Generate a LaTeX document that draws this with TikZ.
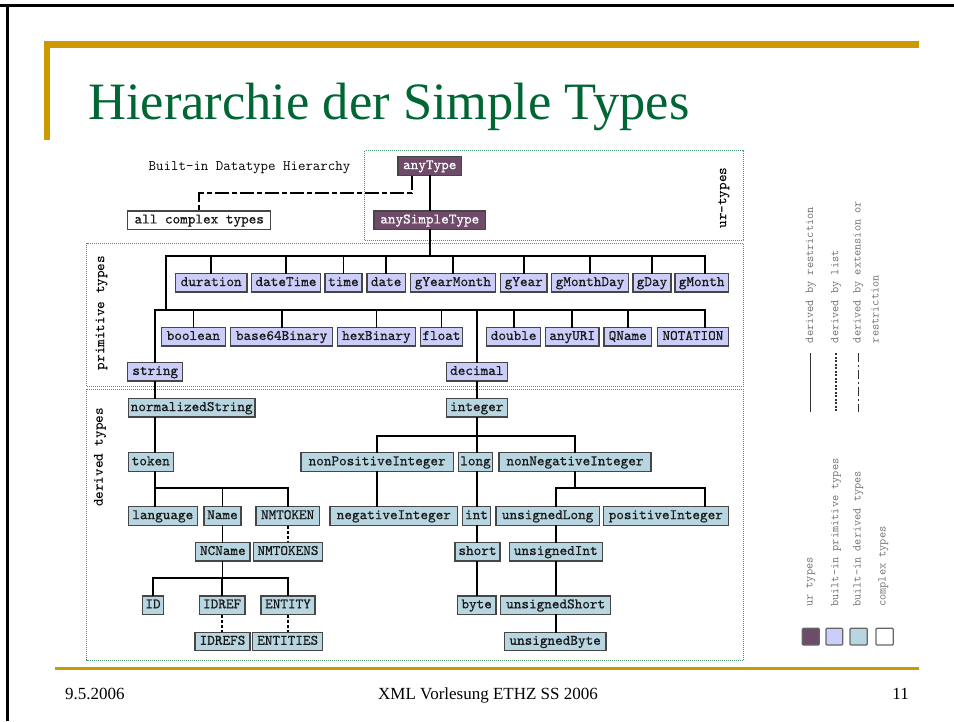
\documentclass[tikz,border=0pt]{standalone}
\usepackage{fontspec}
\newfontfamily\serifx{Liberation Serif}
\newfontfamily\monof{lmmono10-regular}[Extension=.otf, FakeBold=0.6]
\definecolor{urc}{RGB}{110,75,105}
\definecolor{primc}{RGB}{204,206,250}
\definecolor{derc}{RGB}{184,214,226}
\definecolor{bxline}{RGB}{70,70,70}
\definecolor{grpc}{RGB}{70,150,110}
\definecolor{goldc}{RGB}{204,153,0}
\definecolor{titlec}{RGB}{0,102,51}
\definecolor{leggray}{RGB}{115,115,115}
\begin{document}
\begin{tikzpicture}[x=1pt,y=-1pt,
 bx/.style={draw=bxline, line width=1.3pt, inner sep=0pt, minimum height=18.5pt, text height=9pt, text depth=2.5pt, font=\fontsize{14.5}{15}\selectfont\monof, text=black!90},
 pr/.style={bx, fill=primc},
 dr/.style={bx, fill=derc},
 ur/.style={bx, fill=urc, text=white},
 cx/.style={bx, fill=white},
 conn/.style={draw=black, line width=1.8pt, line cap=rect},
 lst/.style={draw=black, line width=1.8pt, dash pattern=on 3pt off 2pt},
 ext/.style={draw=black, line width=1.8pt, dash pattern=on 14pt off 3pt on 5pt off 3pt},
 grp/.style={draw=grpc, line width=1pt, dash pattern=on 1pt off 1pt},
 lbl/.style={font=\fontsize{14.5}{15}\selectfont\ttfamily\bfseries, rotate=90, inner sep=0pt},
 legt/.style={font=\fontsize{12}{12}\selectfont\ttfamily, text=leggray, rotate=90, anchor=west, inner sep=0pt},
 legl/.style={draw=black!80, line width=1.4pt},
 sq/.style={draw=black!60, line width=1.2pt, rounded corners=1pt}]
\useasboundingbox (0,0) rectangle (954,721);
\fill[white] (0,0) rectangle (954,721);
% frame
\draw[black, line width=2.6pt] (0,5.3) -- (954,5.3);
\draw[black, line width=2.6pt] (7.5,4) -- (7.5,721);
% gold decorations
\fill[goldc] (44,41) rectangle (919,47.5);
\fill[goldc] (44,41) rectangle (50,140);
\fill[goldc] (55,666.5) rectangle (919,670);
% title
\node[anchor=base west, inner sep=0pt, text=titlec, font=\fontsize{52.5}{52.5}\selectfont\serifx] (title) at (88,119) {Hierarchie der Simple Types};
% footer
\node[anchor=base west, inner sep=0pt, font=\fontsize{17}{17}\selectfont\serifx] (fdate) at (65,699.5) {9.5.2006};
\node[anchor=base, inner sep=0pt, font=\fontsize{17}{17}\selectfont\serifx] (fmid) at (488,699.5) {XML Vorlesung ETHZ SS 2006};
\node[anchor=base east, inner sep=0pt, font=\fontsize{17}{17}\selectfont\serifx] (fnum) at (909,699.5) {11};
% group boxes
\draw[grp] (364.5,150.7) rectangle (743.5,240.7);
\draw[grp] (86.5,243.3) rectangle (743.5,386.7);
\draw[grp] (86.5,389.3) rectangle (743.5,660);
\node[lbl] (lur) at (724,198) {ur-types};
\node[lbl] (lprim) at (101.7,313) {primitive types};
\node[lbl] (lder) at (100,457.5) {derived types};
\node[anchor=base west, inner sep=0pt, font=\fontsize{14.5}{15}\selectfont\ttfamily] (bidh) at (148.5,170.7) {Built-in Datatype Hierarchy};
% coordinates
\coordinate (bus1) at (0,256);
\coordinate (bus2) at (0,310);
\coordinate (bus3) at (0,488.3);
\coordinate (bus4) at (0,577.7);
\coordinate (bus5) at (0,435.7);
\coordinate (ext) at (0,193.3);
\coordinate (xL) at (166,0);
\coordinate (xR) at (705.3,0);
\coordinate (xE) at (411.7,0);
% ur types
\node[ur, minimum width=63.7pt] (anyType) at (429.75,165.9) {anyType};
\node[ur, minimum width=111.5pt] (anySimpleType) at (429.75,220.2) {anySimpleType};
\node[cx, minimum width=143.1pt] (complex) at (199.25,220.2) {all complex types};
% primitive row 1
\node[pr, minimum width=71.6pt] (duration) at (211.2,282.8) {duration};
\node[pr, minimum width=69.4pt] (dateTime) at (286,282.8) {dateTime};
\node[pr, minimum width=36.9pt] (time) at (343.45,282.8) {time};
\node[pr, minimum width=38.1pt] (date) at (386.15,282.8) {date};
\node[pr, minimum width=85pt] (gYearMonth) at (452.9,282.8) {gYearMonth};
\node[pr, minimum width=46.4pt] (gYear) at (523.8,282.8) {gYear};
\node[pr, minimum width=77.2pt] (gMonthDay) at (590,282.8) {gMonthDay};
\node[pr, minimum width=38.2pt] (gDay) at (652,282.8) {gDay};
\node[pr, minimum width=53.3pt] (gMonth) at (701.65,282.8) {gMonth};
% primitive row 2
\node[pr, minimum width=63.8pt] (boolean) at (193.4,336.7) {boolean};
\node[pr, minimum width=102.3pt] (base64Binary) at (281.65,336.7) {base64Binary};
\node[pr, minimum width=77.6pt] (hexBinary) at (376.4,336.7) {hexBinary};
\node[pr, minimum width=42.1pt] (float) at (441.45,336.7) {float};
\node[pr, minimum width=53.7pt] (double) at (513.65,336.7) {double};
\node[pr, minimum width=53.8pt] (anyURI) at (572.2,336.7) {anyURI};
\node[pr, minimum width=47.7pt] (QName) at (627.75,336.7) {QName};
\node[pr, minimum width=70.7pt] (NOTATION) at (692.95,336.7) {NOTATION};
% primitive row 3
\node[pr, minimum width=55.1pt] (string) at (155.25,371.7) {string};
\node[pr, minimum width=60.8pt] (decimal) at (476.8,371.7) {decimal};
% derived
\node[dr, minimum width=126.7pt] (normalizedString) at (191.65,407.8) {normalizedString};
\node[dr, minimum width=61pt] (integer) at (476.8,407.8) {integer};
\node[dr, minimum width=45pt] (token) at (150.8,462) {token};
\node[dr, minimum width=152.3pt] (nonPositiveInteger) at (377.15,462) {nonPositiveInteger};
\node[dr, minimum width=34pt] (long) at (475.5,462) {long};
\node[dr, minimum width=152pt] (nonNegativeInteger) at (575,462) {nonNegativeInteger};
\node[dr, minimum width=69pt] (language) at (162.8,515.9) {language};
\node[dr, minimum width=37pt] (Name) at (222.5,515.9) {Name};
\node[dr, minimum width=63.3pt] (NMTOKEN) at (287.65,515.9) {NMTOKEN};
\node[dr, minimum width=127.7pt] (negativeInteger) at (393.85,515.9) {negativeInteger};
\node[dr, minimum width=28.4pt] (int) at (476.5,515.9) {int};
\node[dr, minimum width=103.3pt] (unsignedLong) at (547.65,515.9) {unsignedLong};
\node[dr, minimum width=125pt] (positiveInteger) at (665.8,515.9) {positiveInteger};
\node[dr, minimum width=54.3pt] (NCName) at (222.85,551.7) {NCName};
\node[dr, minimum width=69.4pt] (NMTOKENS) at (288,551.7) {NMTOKENS};
\node[dr, minimum width=45pt] (short) at (477.5,551.7) {short};
\node[dr, minimum width=93pt] (unsignedInt) at (555.8,551.7) {unsignedInt};
\node[dr, minimum width=20.6pt] (ID) at (153,605.1) {ID};
\node[dr, minimum width=45.7pt] (IDREF) at (222.15,605.1) {IDREF};
\node[dr, minimum width=54pt] (ENTITY) at (288,605.1) {ENTITY};
\node[dr, minimum width=38.7pt] (byte) at (476.65,605.1) {byte};
\node[dr, minimum width=110pt] (unsignedShort) at (555.7,605.1) {unsignedShort};
\node[dr, minimum width=55pt] (IDREFS) at (222.5,641.5) {IDREFS};
\node[dr, minimum width=70pt] (ENTITIES) at (287.7,641.5) {ENTITIES};
\node[dr, minimum width=101.7pt] (unsignedByte) at (555.15,641.5) {unsignedByte};
% connectors: ur
\draw[conn] (anyType) -- (anySimpleType);
\draw[ext] (anyType.south -| xE) -- (xE |- ext) -- (complex.north |- ext) -- (complex.north);
% primitive level 1
\draw[conn] (anySimpleType.south) -- (anySimpleType.south |- bus1);
\draw[conn] (xL |- bus1) -- (xR |- bus1);
\foreach \n in {duration,dateTime,time,date,gYearMonth,gYear,gMonthDay,gDay}
  \draw[conn] (\n.north) -- (\n.north |- bus1);
\draw[conn] (gMonth.north -| xR) -- (xR |- bus1);
\draw[conn] (xL |- bus1) -- (xL |- bus2);
% primitive level 2
\draw[conn] (string.north |- bus2) -- (xR |- bus2);
\foreach \n in {string,boolean,base64Binary,hexBinary,float,decimal,double,anyURI,QName}
  \draw[conn] (\n.north) -- (\n.north |- bus2);
\draw[conn] (NOTATION.north -| xR) -- (xR |- bus2);
% derived: string branch
\draw[conn] (string.south) -- (string.south |- normalizedString.north);
\draw[conn] (normalizedString.south -| string.south) -- (token.north -| string.south);
\draw[conn] (token.south -| string.south) -- (string.south |- bus3) -- (NMTOKEN.north |- bus3) -- (NMTOKEN.north);
\draw[conn] (language.north -| string.south) -- (string.south |- bus3);
\draw[conn] (Name.north) -- (Name.north |- bus3);
\draw[lst] (NMTOKEN.south) -- (NMTOKEN.south |- NMTOKENS.north);
\draw[conn] (Name.south) -- (Name.south |- NCName.north);
\draw[conn] (NCName.south -| Name.south) -- (Name.south |- bus4);
\draw[conn] (ID.north) -- (ID.north |- bus4) -- (ENTITY.north |- bus4) -- (ENTITY.north);
\draw[conn] (IDREF.north) -- (IDREF.north |- bus4);
\draw[lst] (IDREF.south) -- (IDREF.south |- IDREFS.north);
\draw[lst] (ENTITY.south) -- (ENTITY.south |- ENTITIES.north);
% derived: decimal branch
\draw[conn] (decimal.south) -- (decimal.south |- integer.north);
\draw[conn] (integer.south) -- (integer.south |- bus5);
\draw[conn] (nonPositiveInteger.north) -- (nonPositiveInteger.north |- bus5) -- (nonNegativeInteger.north |- bus5) -- (nonNegativeInteger.north);
\draw[conn] (long.north -| integer.south) -- (integer.south |- bus5);
\draw[conn] (nonPositiveInteger.south) -- (nonPositiveInteger.south |- negativeInteger.north);
\draw[conn] (long.south -| integer.south) -- (int.north -| integer.south);
\draw[conn] (int.south -| integer.south) -- (short.north -| integer.south);
\draw[conn] (short.south -| integer.south) -- (byte.north -| integer.south);
\draw[conn] (nonNegativeInteger.south) -- (nonNegativeInteger.south |- bus3);
\draw[conn] (unsignedLong.north -| unsignedInt.north) -- (unsignedInt.north |- bus3) -- (xR |- bus3) -- (positiveInteger.north -| xR);
\draw[conn] (unsignedLong.south -| unsignedInt.north) -- (unsignedInt.north);
\draw[conn] (unsignedInt.south) -- (unsignedInt.south |- unsignedShort.north);
\draw[conn] (unsignedShort.south) -- (unsignedShort.south |- unsignedByte.north);
% legend
\draw[legl] (810.7,353.3) -- (810.7,411.7);
\draw[legl, dash pattern=on 2pt off 1.5pt] (836,353.3) -- (836,411.7);
\draw[legl, dash pattern=on 9pt off 3pt on 2pt off 3pt] (858.3,353.3) -- (858.3,411.7);
\node[legt] (t1) at (810.7,343.3) {derived by restriction};
\node[legt] (t2) at (836,343.3) {derived by list};
\node[legt] (t3) at (858.3,343.3) {derived by extension or};
\node[legt] (t4) at (875,343.3) {restriction};
\node[legt] (t5) at (810.7,607) {ur types};
\node[legt] (t6) at (836,607) {built-in primitive types};
\node[legt] (t7) at (858.3,607) {built-in derived types};
\node[legt] (t8) at (883.3,607) {complex types};
\draw[sq, fill=urc] (802.3,628.3) rectangle (819.3,645);
\draw[sq, fill=primc] (826,628.3) rectangle (842.7,645);
\draw[sq, fill=derc] (850,628.3) rectangle (867.3,645);
\draw[sq, fill=white] (876,628.3) rectangle (893.3,645);
\end{tikzpicture}
\end{document}
